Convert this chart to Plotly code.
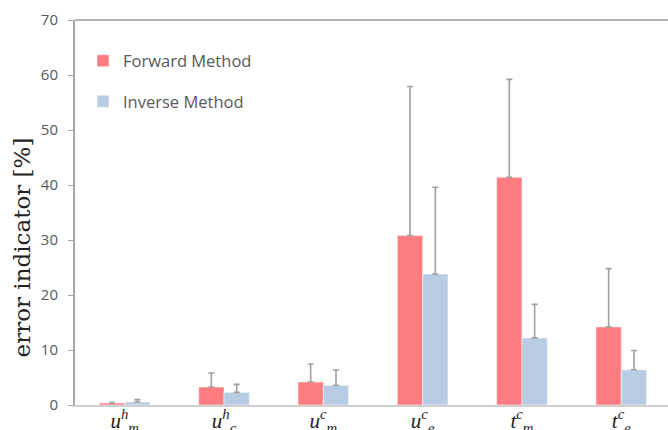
import plotly.graph_objects as go

categories = ["u_m^h", "u_c^h", "u_m^c", "u_e^c", "t_m^c", "t_e^c"]
tick_labels = [
    "<i>u</i><sup><i>h</i></sup><sub><i>m</i></sub>",
    "<i>u</i><sup><i>h</i></sup><sub><i>c</i></sub>",
    "<i>u</i><sup><i>c</i></sup><sub><i>m</i></sub>",
    "<i>u</i><sup><i>c</i></sup><sub><i>e</i></sub>",
    "<i>t</i><sup><i>c</i></sup><sub><i>m</i></sub>",
    "<i>t</i><sup><i>c</i></sup><sub><i>e</i></sub>",
]
forward_values = [0.36, 3.27, 4.18, 30.8, 41.4, 14.2]
forward_errors = [0.1, 2.55, 3.27, 27.1, 17.8, 10.6]
inverse_values = [0.55, 2.3, 3.58, 23.8, 12.2, 6.4]
inverse_errors = [0.42, 1.45, 2.78, 15.8, 6.1, 3.5]
y_ticks = [0, 10, 20, 30, 40, 50, 60, 70]

x_idx = list(range(len(categories)))
err_style = dict(type="data", symmetric=False, color="#a0a0a0", thickness=1.6, width=3)

fig = go.Figure()
fig.add_trace(go.Bar(
    x=x_idx, y=forward_values, name="Forward Method", legendgroup="f",
    marker=dict(color="#ff7c80", line=dict(color="rgba(255,255,255,0.5)", width=1)),
    error_y=dict(array=forward_errors, arrayminus=[0] * 6, **err_style),
))
fig.add_trace(go.Bar(
    x=x_idx, y=inverse_values, name="Inverse Method", legendgroup="i",
    marker=dict(color="#b8cce4", line=dict(color="rgba(255,255,255,0.5)", width=1)),
    error_y=dict(array=inverse_errors, arrayminus=[0] * 6, **err_style),
))

fig.update_layout(
    width=668, height=430,
    margin=dict(l=75, r=0, t=20, b=25, autoexpand=False),
    paper_bgcolor="white", plot_bgcolor="white",
    barmode="group", bargap=0.49, bargroupgap=0,
    showlegend=True,
    legend=dict(
        x=0.0135, y=0.939, xanchor="left", yanchor="top",
        font=dict(family="Open Sans", size=16.5, color="#595959"),
        tracegroupgap=16, itemwidth=30, bgcolor="rgba(0,0,0,0)",
    ),
    xaxis=dict(
        range=[-0.5, 5.47], tickvals=x_idx, ticktext=tick_labels,
        showline=True, linecolor="#d0d0d0", linewidth=2,
        ticks="", showgrid=False, zeroline=False, automargin=False,
        ticklabelstandoff=-4,
        tickfont=dict(family="Liberation Serif", size=21, color="#222"),
    ),
    yaxis=dict(
        range=[0, 70], tickvals=y_ticks,
        showline=True, linecolor="#a6a6a6", linewidth=2,
        ticks="outside", ticklen=5, tickcolor="#a6a6a6", tickwidth=1,
        ticklabelstandoff=7,
        showgrid=False, zeroline=False, automargin=False,
        tickfont=dict(family="Open Sans", size=15, color="#595959"),
    ),
    shapes=[dict(type="line", xref="paper", yref="paper", x0=0, x1=1, y0=1, y1=1,
                 line=dict(color="#b4b4b4", width=2))],
    annotations=[dict(
        text="error indicator [%]", textangle=-90,
        xref="paper", yref="paper", x=-0.0889, y=0.41,
        xanchor="center", yanchor="middle", showarrow=False,
        font=dict(family="DejaVu Serif", size=23, color="#222"),
    )],
)

fig.write_html("out.html", config={"displayModeBar": False},
               post_script="document.body.style.margin='0';")
